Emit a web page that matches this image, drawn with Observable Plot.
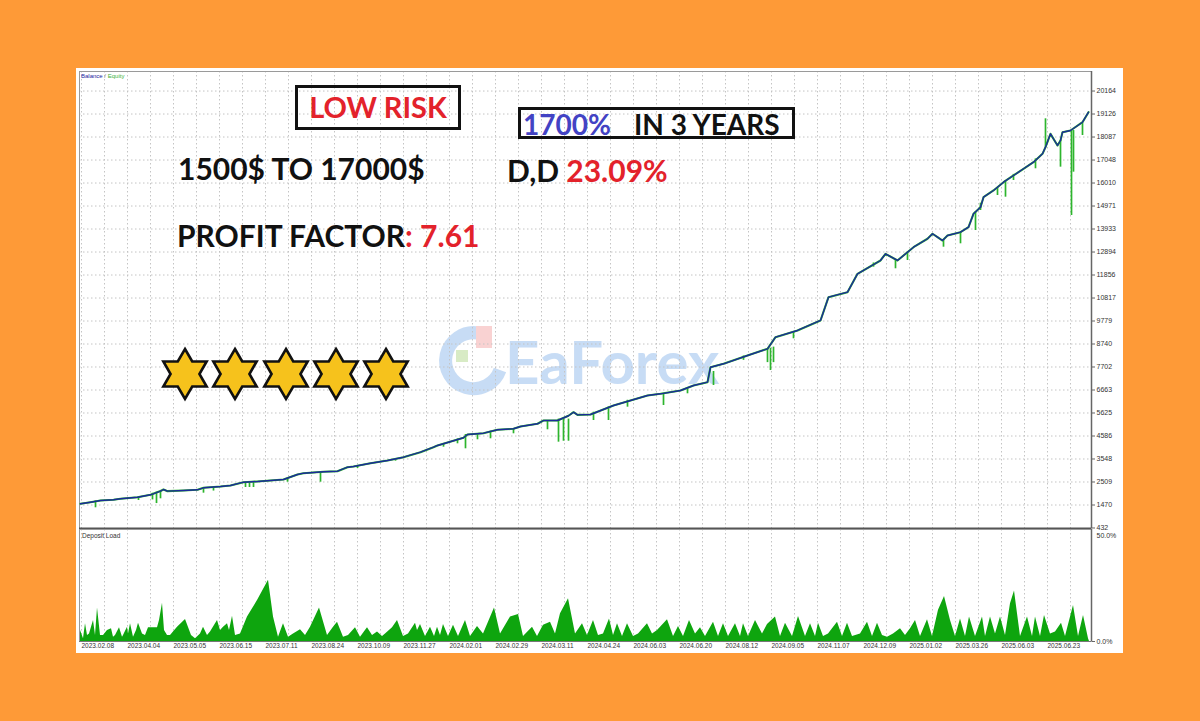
<!DOCTYPE html>
<html><head><meta charset="utf-8">
<script src="https://cdn.jsdelivr.net/npm/d3@7"></script>
<script src="https://cdn.jsdelivr.net/npm/@observablehq/plot@0.6"></script>
<style>
html,body{margin:0;padding:0;background:#FE9A37;width:1200px;height:721px;overflow:hidden;}
#panel{position:absolute;left:76px;top:68px;width:1047px;height:585px;background:#fff;}
#wm{position:absolute;left:0;top:0;z-index:1;pointer-events:none;}
#main{position:absolute;left:76px;top:68px;z-index:2;}
#load{position:absolute;left:76px;top:528px;z-index:2;}
#overlay{position:absolute;left:0;top:0;z-index:3;pointer-events:none;}
svg text{font-kerning:normal;}
</style></head><body>
<div id="panel"></div>
<svg id="wm" width="1200" height="721"></svg>
<div id="main"></div>
<div id="load"></div>
<svg id="overlay" width="1200" height="721"></svg>
<script>
// ---- data (x = deal index along the tester history) ----
const yTicks = [432,1470,2509,3548,4586,5625,6663,7702,8740,9779,10817,11856,12894,13933,14971,16010,17048,18087,19126,20164];
const dateLabels = ["2023.02.08","2023.04.04","2023.05.05","2023.06.15","2023.07.11","2023.08.24","2023.10.09","2023.11.27","2024.02.01","2024.02.29","2024.03.11","2024.04.24","2024.06.03","2024.06.20","2024.08.12","2024.09.05","2024.11.07","2024.12.09","2025.01.02","2025.03.26","2025.06.03","2025.06.23"];

const balIdx = [1,11,21,34,41,58,71,81,84,88,104,118,124,141,151,164,178,204,218,224,244,258,268,274,291,308,324,341,354,358,384,388,404,418,434,441,458,464,478,489,494,498,511,534,551,568,581,601,614,628,631,644,668,688,696,718,741,749,768,778,801,806,818,834,848,853,858,863,868,881,889,894,901,904,914,924,934,944,954,963,966,971,978,981,983,991,1003,1009];
const balVal = [1525,1597,1674,1706,1751,1823,1931,2100,2170,2095,2125,2157,2247,2306,2351,2500,2532,2622,2848,2907,2970,2997,3178,3209,3358,3480,3629,3855,4081,4158,4505,4654,4713,4867,4912,5016,5138,5286,5286,5500,5661,5540,5557,5964,6190,6415,6491,6641,6867,7016,7693,7847,8222,8524,9048,9351,9803,10855,11081,11911,12512,12813,12512,13112,13493,13719,13565,13414,13640,13790,14015,14621,14918,15370,15673,16047,16350,16653,16952,17329,17630,18231,17704,17930,18305,18382,18756,19208];

const eqIdx  = [16,59,73,77,81,124,134,166,170,174,208,241,278,316,364,378,386,398,411,434,468,479,484,489,514,529,548,584,608,634,664,688,691,694,714,794,816,828,864,881,896,901,918,926,934,956,966,981,992,994,1003];
const eqFrom = [1650,1823,2000,2050,2100,2247,2250,2500,2500,2500,2622,2950,3209,3520,4250,4450,4654,4700,4800,4912,5286,5350,5350,5350,5661,5900,6200,6500,6700,7500,8200,8524,8550,8600,9300,12400,12550,12900,13450,13790,14700,15100,15800,16100,16400,17100,17630,17930,18380,18380,18700];
const eqTo   = [1344,1674,1700,1535,1750,2004,2100,2261,2261,2261,2500,2500,3119,3449,4081,4234,4008,4415,4460,4686,4866,4307,4350,4350,5286,5286,5887,5964,6492,6867,8002,7900,7544,7900,8976,12210,12137,12512,13112,13265,13866,14770,15447,15370,16124,16653,18910,16726,14544,16500,18156];

const loadIdx = [1,1,4,6,8,10,14,16,18,21,24,28,32,34,36,40,43,44,48,49,51,54,57,59,63,66,69,78,80,83,85,88,91,98,106,112,116,121,124,128,131,138,141,144,148,150,153,156,161,168,178,189,194,199,204,209,214,221,226,231,240,248,254,258,264,269,276,281,288,293,298,303,306,313,318,324,329,336,338,341,346,351,355,358,361,364,369,374,379,386,391,398,404,415,421,431,439,444,453,458,464,471,476,481,489,496,503,508,514,519,524,530,534,538,543,548,554,559,568,573,578,588,594,599,604,610,616,621,626,634,639,644,649,656,661,664,669,676,683,688,696,701,706,713,719,726,731,736,739,744,749,758,763,768,773,781,788,793,798,803,808,814,821,826,831,836,841,848,853,859,865,871,876,881,886,890,896,903,906,911,916,921,926,931,935,941,948,953,956,961,965,971,976,982,986,994,999,1004,1009,1010];
const loadVal = [0,4.9,1.2,7.9,2.7,3.4,9.4,2.7,15.0,2.7,2.7,4.9,5.7,1.9,2.7,6.1,1.9,2.7,6.4,3.4,7.9,1.9,4.9,8.2,3.4,2.7,6.1,6.1,9.4,17.1,4.9,2.7,2.7,6.4,9.8,2.7,1.2,3.4,6.4,2.7,4.2,9.4,4.9,6.4,7.9,4.9,11.3,2.7,3.4,10.9,18.3,27.3,10.9,1.9,7.9,1.9,3.4,5.2,2.7,6.4,15.0,2.7,6.4,8.6,1.9,2.7,6.1,1.9,6.1,2.7,4.2,2.2,3.4,6.1,9.4,2.2,3.4,8.2,4.9,7.6,2.2,6.4,2.2,6.4,2.7,7.6,2.2,7.2,2.2,9.4,2.2,6.7,3.4,15.0,3.4,10.9,12.1,2.2,6.4,2.2,7.2,8.6,3.4,12.4,19.1,3.4,7.9,2.7,9.4,2.7,3.4,10.1,2.7,7.9,2.2,7.9,2.2,3.4,7.9,3.4,4.9,9.7,2.2,6.7,2.2,9.4,3.4,6.1,2.2,8.6,2.2,7.9,2.2,7.9,2.2,7.9,2.2,9.4,3.4,7.6,10.9,2.2,8.2,2.2,11.2,2.2,7.9,2.2,8.2,2.2,3.4,8.6,2.2,8.2,2.2,3.4,8.6,2.2,8.2,2.7,1.9,3.4,5.7,2.7,5.7,9.4,2.2,9.7,2.2,13.9,20.1,9.4,2.2,10.1,2.2,10.9,2.2,10.9,2.2,10.9,3.4,10.9,2.7,16.8,22.5,2.2,10.9,2.2,10.9,2.2,11.6,3.4,4.2,8.2,2.2,16.1,2.2,11.6,1.2,0];

// ---- tables built from the arrays ----
const balance = balIdx.map((x,i)=>({x, v: balVal[i]}));
const equityMoves = eqIdx.map((x,i)=>({x, a: eqFrom[i], b: eqTo[i]}));
const load = loadIdx.map((x,i)=>({x, v: loadVal[i]}));
const gridIdx = d3.range(2, 1012, 23);
const labelIdx = dateLabels.map((d,i)=>2 + 46*i);

const FONT = "'Liberation Sans', Arial, sans-serif";
const GRID = {stroke:"#c4c4c4", strokeOpacity:1, strokeDasharray:"1.5,2.5", strokeWidth:1};

const main = Plot.plot({
  width:1047, height:460, marginLeft:3, marginRight:32, marginTop:3, marginBottom:0,
  style:{background:"transparent", fontFamily:FONT, color:"#333", overflow:"visible"},
  x:{domain:[0,1012], axis:null},
  y:{domain:[409,21046], axis:null},
  marks:[
    Plot.gridX(gridIdx, GRID),
    Plot.gridY(yTicks.slice(1), GRID),
    Plot.frame({stroke:"#9a9a9a"}),
    Plot.line(balance, {x:"x", y:"v", stroke:"#2DB52D", strokeWidth:2.1}),
    Plot.ruleX(equityMoves, {x:"x", y1:"a", y2:"b", stroke:"#2DB52D", strokeWidth:1.7}),
    Plot.line(balance, {x:"x", y:"v", stroke:"#1C2A9A", strokeWidth:1.4}),
    Plot.axisY(yTicks, {anchor:"right", label:null, tickSize:3, tickPadding:2, fontSize:7, fill:"#333", stroke:"#666", tickFormat:d=>String(d)}),
    Plot.ruleX([1012], {stroke:"#666", strokeWidth:1.5}),
    Plot.ruleY([409], {stroke:"#555", strokeWidth:2})
  ]
});
document.getElementById("main").appendChild(main);

const loadPlot = Plot.plot({
  width:1047, height:125, marginLeft:3, marginRight:32, marginTop:1, marginBottom:12,
  style:{background:"transparent", fontFamily:FONT, color:"#333", overflow:"visible"},
  x:{domain:[0,1012], axis:null},
  y:{domain:[0,50], axis:null},
  marks:[
    Plot.gridX(gridIdx, GRID),
    Plot.areaY(load, {x:"x", y:"v", fill:"#0EA50E"}),
    Plot.frame({stroke:"#9a9a9a"}),
    Plot.ruleX([1012], {stroke:"#666", strokeWidth:1.5}),
    Plot.ruleY([0], {stroke:"#777", strokeWidth:1}),
    Plot.axisX(labelIdx, {anchor:"bottom", label:null, tickSize:0, tickPadding:1.5, textAnchor:"start", fontSize:6.5, fill:"#333", tickFormat:d=>dateLabels[labelIdx.indexOf(d)]}),
    Plot.axisY([50], {anchor:"right", label:null, tickSize:0, tickPadding:5, dy:6, fontSize:7, fill:"#333", tickFormat:d=>d.toFixed(1)+"%"}),
    Plot.axisY([0], {anchor:"right", label:null, tickSize:3, tickPadding:2, fontSize:7, fill:"#333", stroke:"#666", tickFormat:d=>d.toFixed(1)+"%"})
  ]
});
document.getElementById("load").appendChild(loadPlot);

// ---- overlay annotations ----
const ns = "http://www.w3.org/2000/svg";
function el(parent, tag, attrs, text){
  const e = document.createElementNS(ns, tag);
  for (const k in attrs) e.setAttribute(k, attrs[k]);
  if (text != null) e.textContent = text;
  parent.appendChild(e); return e;
}
const ov = document.getElementById("overlay");
const wm = document.getElementById("wm");
const BOLD = "Lato, 'Open Sans', sans-serif";

// watermark
const wg = el(wm, "g", {opacity:"0.38"});
el(wg, "path", {d:"M478,333 A28,28 0 1 0 500,370", fill:"none", stroke:"#6FA6E6", "stroke-width":"13"});
el(wg, "rect", {x:"476", y:"326", width:"16", height:"22", fill:"#F08A8A"});
el(wg, "rect", {x:"456", y:"350", width:"12", height:"12", fill:"#9BCB6A"});
el(wg, "text", {x:"505", y:"384", "font-family":BOLD, "font-weight":"700", "font-size":"60", fill:"#6FA6E6"}, "EaForex");

// legend-style header texts
const lg = el(ov, "text", {x:"81", y:"78", "font-family":FONT, "font-size":"6"});
el(lg, "tspan", {fill:"#1C1CA0"}, "Balance");
el(lg, "tspan", {fill:"#777"}, " / ");
el(lg, "tspan", {fill:"#3CB43C"}, "Equity");
el(ov, "text", {x:"82", y:"538", "font-family":FONT, "font-size":"6.5", fill:"#333"}, "Deposit Load");

// boxes
el(ov, "rect", {x:"296.5", y:"86.5", width:"163", height:"42", fill:"none", stroke:"#111", "stroke-width":"3"});
el(ov, "text", {x:"378", y:"118", "text-anchor":"middle", "font-family":BOLD, "font-weight":"700", "font-size":"29", fill:"#E3222B"}, "LOW RISK");
el(ov, "rect", {x:"519.5", y:"108.5", width:"274", height:"29", fill:"none", stroke:"#111", "stroke-width":"3"});
const t1 = el(ov, "text", {x:"523", y:"135", "font-family":BOLD, "font-weight":"700", "font-size":"28"});
el(t1, "tspan", {fill:"#4343C4"}, "1700%");
el(t1, "tspan", {fill:"#111", x:"634"}, "IN 3 YEARS");

el(ov, "text", {x:"178", y:"180", "font-family":BOLD, "font-weight":"700", "font-size":"30", fill:"#111"}, "1500$ TO 17000$");
const t2 = el(ov, "text", {x:"177", y:"247", "font-family":BOLD, "font-weight":"700", "font-size":"30"});
el(t2, "tspan", {fill:"#111"}, "PROFIT FACTOR");
el(t2, "tspan", {fill:"#E3222B"}, ": 7.61");
const t3 = el(ov, "text", {x:"507", y:"182", "font-family":BOLD, "font-weight":"700", "font-size":"30"});
el(t3, "tspan", {fill:"#111"}, "D,D ");
el(t3, "tspan", {fill:"#E3222B"}, "23.09%");

// five six-pointed stars
const starCx = [185, 235, 286, 336, 386];
starCx.forEach(cx => {
  const cy = 374, R = 25, r = R/Math.sqrt(3);
  const pts = d3.range(12).map(k => {
    const a = (-90 + k*30) * Math.PI/180, rr = k%2===0 ? R : r;
    return (cx + rr*Math.cos(a)).toFixed(2) + "," + (cy + rr*Math.sin(a)).toFixed(2);
  }).join(" ");
  el(ov, "polygon", {points:pts, fill:"#F6C21C", stroke:"#111", "stroke-width":"2.6", "stroke-linejoin":"miter"});
});
</script>
</body></html>
